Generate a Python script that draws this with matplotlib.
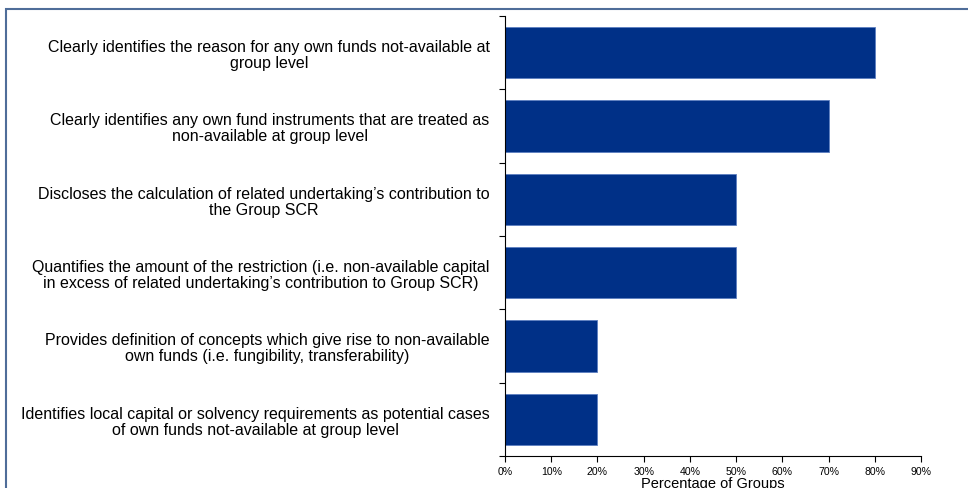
import matplotlib.pyplot as plt
import numpy as np
from matplotlib.patches import Rectangle
from matplotlib.ticker import FixedLocator, PercentFormatter

plt.rcParams['font.family'] = ['Liberation Sans', 'DejaVu Sans']

criteria = [
    "Clearly identifies the reason for any own funds not-available at\ngroup level",
    "Clearly identifies any own fund instruments that are treated as\nnon-available at group level",
    "Discloses the calculation of related undertaking\u2019s contribution to\nthe Group SCR",
    "Quantifies the amount of the restriction (i.e. non-available capital\nin excess of related undertaking\u2019s contribution to Group SCR)",
    "Provides definition of concepts which give rise to non-available\nown funds (i.e. fungibility, transferability)",
    "Identifies local capital or solvency requirements as potential cases\nof own funds not-available at group level",
]
share = [0.80, 0.70, 0.50, 0.50, 0.20, 0.20]

fig = plt.figure(figsize=(9.68, 4.89), dpi=100)
ax = fig.add_axes([505 / 968, 32 / 489, 416 / 968, 440 / 489])

# frame around the whole exhibit
fig.patches.append(Rectangle((6 / 968, -0.1), 1.2, 1.1 - 10 / 489 + 0.001,
                             transform=fig.transFigure, fill=False,
                             edgecolor='#4f6d99', linewidth=1.5))

pos = np.arange(len(criteria))
ax.barh(pos, share, height=0.7, color='#003087', edgecolor='#5d7fc0', linewidth=0.6)

ax.set_ylim(len(criteria) - 0.5, -0.5)
ax.set_xlim(0, 0.9)
ax.set_yticks(pos)
ax.set_yticklabels(criteria, fontsize=11.5, ma='center', linespacing=1.08)
ax.tick_params(axis='y', which='major', length=0, pad=11)
ax.yaxis.set_minor_locator(FixedLocator(np.arange(-0.5, len(criteria), 1)))
ax.tick_params(axis='y', which='minor', length=4, width=0.8, direction='out')

ax.set_xticks(np.arange(0, 0.91, 0.1))
ax.xaxis.set_major_formatter(PercentFormatter(1.0, decimals=0))
ax.tick_params(axis='x', labelsize=7.6, length=4, width=0.8, pad=3)
ax.set_xlabel("Percentage of Groups", fontsize=10.5, labelpad=0)

for side in ['top', 'right']:
    ax.spines[side].set_visible(False)
for side in ['left', 'bottom']:
    ax.spines[side].set_linewidth(0.8)

fig.savefig('out.png', dpi=100)
